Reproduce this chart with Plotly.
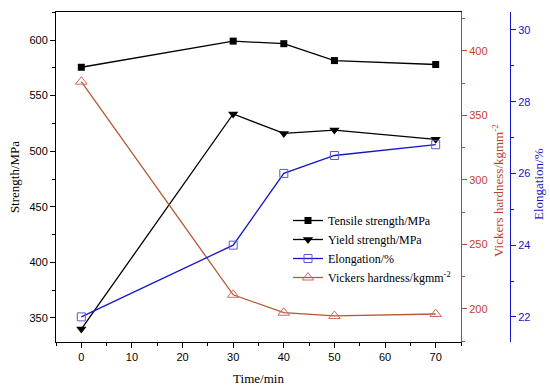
import plotly.graph_objects as go

time_min = [0, 30, 40, 50, 70]
tensile = [575.5, 599, 596.7, 581.5, 578]
yield_s = [340, 533.5, 516, 519, 510.7]
elongation = [22.0, 24.0, 26.0, 26.5, 26.8]
vickers = [376.2, 211, 197.1, 194.6, 196.1]

RED = "#B8432F"
REDTXT = "#C83C32"
BLUE = "#1515C8"
VLINE = "#B25A32"

serif = "Liberation Serif"
sans = "Liberation Sans"

L, R, T, B = 56, 0, 12, 49
W, H = 550, 391
PW = W - L - R
PH = H - T - B


def px(xp):
    return (xp - L) / PW


def py(yp):
    return (H - B - yp) / PH


fig = go.Figure()
fig.add_trace(go.Scatter(x=time_min, y=tensile, name="Tensile strength/MPa",
                         mode="lines+markers", line=dict(color="black", width=1.3),
                         marker=dict(symbol="square", size=7, color="black")))
fig.add_trace(go.Scatter(x=time_min, y=yield_s, name="Yield strength/MPa",
                         mode="lines+markers", line=dict(color="black", width=1.3),
                         marker=dict(symbol="triangle-down", size=9, color="black")))
fig.add_trace(go.Scatter(x=time_min, y=elongation, name="Elongation/%", yaxis="y3",
                         mode="lines+markers", line=dict(color=BLUE, width=1.3),
                         marker=dict(symbol="square-open", size=8, color="#5A5AD0", line=dict(width=1))))
fig.add_trace(go.Scatter(x=time_min, y=vickers, name="Vickers hardness/kgmm<sup>-2</sup>", yaxis="y2",
                         mode="lines+markers", line=dict(color=VLINE, width=1.3),
                         marker=dict(symbol="triangle-up-open", size=10, color="#D06A60", line=dict(width=1))))

fig.update_layout(
    width=W, height=H,
    margin=dict(l=L, r=R, t=T, b=B, autoexpand=False),
    paper_bgcolor="white", plot_bgcolor="white",
    showlegend=True,
    legend=dict(x=px(288), y=py(206), xanchor="left", yanchor="top",
                font=dict(family=serif, size=12, color="black"),
                bgcolor="rgba(0,0,0,0)", tracegroupgap=0, itemwidth=30),
    xaxis=dict(domain=[0, px(461)], range=[-5, 75], dtick=10, tick0=0, automargin=False,
               showline=True, linecolor="black", linewidth=1, mirror=True,
               ticks="outside", ticklen=5, tickcolor="black",
               minor=dict(dtick=5, ticklen=3, ticks="outside", tickcolor="black"),
               showgrid=False, zeroline=False,
               tickfont=dict(family=sans, size=11, color="black"),
               title=dict(text="Time/min", font=dict(family=serif, size=13, color="black"), standoff=11)),
    yaxis=dict(range=[328.4, 625.2], dtick=50, tick0=350, automargin=False,
               showline=True, linecolor="black", linewidth=1,
               ticks="outside", ticklen=5, tickcolor="black",
               minor=dict(dtick=25, ticklen=3, ticks="outside", tickcolor="black"),
               showgrid=False, zeroline=False,
               tickfont=dict(family=sans, size=11, color="black"),
               title=dict(text="Strength/MPa", font=dict(family=serif, size=13, color="black"), standoff=6)),
    yaxis2=dict(overlaying="y", side="right", anchor="x", range=[174.4, 430.2], dtick=50, tick0=200,
                automargin=False,
                showline=True, linecolor=RED, linewidth=1,
                ticks="outside", ticklen=5, tickcolor=RED,
                minor=dict(dtick=25, ticklen=3, ticks="outside", tickcolor=RED),
                showgrid=False, zeroline=False,
                tickfont=dict(family=sans, size=11, color=REDTXT)),
    yaxis3=dict(overlaying="y", side="right", anchor="free", position=px(510),
                range=[21.3, 30.5], dtick=2, tick0=22, automargin=False,
                showline=True, linecolor=BLUE, linewidth=1,
                ticks="outside", ticklen=5, tickcolor=BLUE,
                minor=dict(dtick=1, ticklen=3, ticks="outside", tickcolor=BLUE),
                showgrid=False, zeroline=False,
                tickfont=dict(family=sans, size=11, color=BLUE)),
    annotations=[
        dict(text="Vickers hardness/kgmm<sup>-2</sup>", xref="paper", yref="paper",
             x=px(498), y=py(191), xanchor="center", yanchor="middle", textangle=-90,
             showarrow=False, font=dict(family=serif, size=13, color=RED)),
        dict(text="Elongation/%", xref="paper", yref="paper",
             x=px(538), y=py(184), xanchor="center", yanchor="middle", textangle=-90,
             showarrow=False, font=dict(family=serif, size=13, color=BLUE)),
    ],
)

fig.write_html("out.html", config={"displayModeBar": False},
               post_script="document.body.style.margin='0px';document.body.style.padding='0px';")
